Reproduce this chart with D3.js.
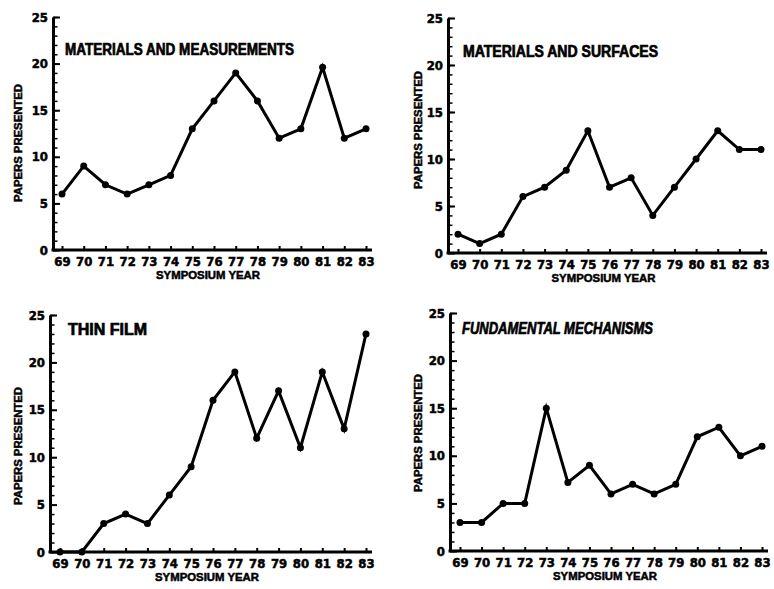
<!DOCTYPE html>
<html>
<head>
<meta charset="utf-8">
<script src="https://cdn.jsdelivr.net/npm/d3@7"></script>
<style>
  body { margin: 0; background: #fff; }
  svg { display: block; }
  .tick text { font-family: "Liberation Sans Narrow", "DejaVu Sans Condensed", sans-serif; font-weight: bold; font-size: 13px; fill: #000; stroke: #000; stroke-width: 0.5px; }
  .lbl { font-family: "Liberation Sans Narrow", "Liberation Sans", sans-serif; font-weight: bold; fill: #000; stroke: #000; stroke-width: 0.5px; }
</style>
</head>
<body>
<div id="chart"></div>
<script>
// symposium years (tick labels)
var years = ["69","70","71","72","73","74","75","76","77","78","79","80","81","82","83"];

// papers presented per year, one array per panel
var measurements = [6, 9, 7, 6, 7, 8, 13, 16, 19, 16, 12, 13, 19.6, 12, 13];
var surfaces     = [2, 1, 2, 6, 7, 8.8, 13, 7, 8, 4, 7, 10, 13, 11, 11];
var thinFilm     = [0, 0, 3, 4, 3, 6, 9, 16, 19, 12, 17, 11, 19, 13, 23];
var mechanisms   = [3, 3, 5, 5, 15, 7.2, 9, 6, 7, 6, 7, 12, 13, 10, 11];

var titles = ["MATERIALS AND MEASUREMENTS", "MATERIALS AND SURFACES", "THIN FILM", "FUNDAMENTAL MECHANISMS"];
var yTicks = [0, 5, 10, 15, 20, 25];

// panel layout (pixel positions in the page)
var panels = [
  {values: measurements, ax: 53,  x0: 62,  x1: 366, y0: 250, y1: 17,  tx: 65,  ty: 55,  tw: 229, italic: false, lx: 18,  ly: 143},
  {values: surfaces,     ax: 448, x0: 458, x1: 761, y0: 253, y1: 18,  tx: 463, ty: 57,  tw: 195, italic: false, lx: 418, ly: 130},
  {values: thinFilm,     ax: 50,  x0: 60,  x1: 366, y0: 552, y1: 315, tx: 68,  ty: 335, tw: 79,  italic: false, lx: 18,  ly: 446},
  {values: mechanisms,   ax: 450, x0: 460, x1: 762, y0: 551, y1: 313, tx: 462, ty: 334, tw: 191, italic: true,  lx: 418, ly: 433}
];

var width = 774, height = 589;

var svg = d3.select("#chart").append("svg")
    .attr("width", width)
    .attr("height", height);

panels.forEach(function(p, i) {
  var g = svg.append("g");

  var x = d3.scalePoint()
      .domain(years)
      .range([p.x0, p.x1]);
  var y = d3.scaleLinear()
      .domain([0, 25])
      .range([p.y0, p.y1]);

  // minor ticks on the y axis, every paper
  g.append("g")
      .attr("transform", "translate(" + p.ax + ",0)")
      .call(d3.axisLeft(y).tickValues(d3.range(0, 26)).tickSize(-4.5).tickFormat(""))
      .call(function(s) {
        s.select(".domain").remove();
        s.selectAll("line").attr("stroke-width", 1.5);
      });

  // major ticks and labels on the y axis
  g.append("g")
      .attr("transform", "translate(" + p.ax + ",0)")
      .call(d3.axisLeft(y).tickValues(yTicks).tickSize(-7).tickSizeOuter(0).tickPadding(5))
      .call(function(s) {
        s.select(".domain").attr("stroke-width", 3);
        s.selectAll("line").attr("stroke-width", 2);
      });

  // x axis
  g.append("g")
      .attr("transform", "translate(0," + p.y0 + ")")
      .call(d3.axisBottom(x).tickSize(-4).tickPadding(7))
      .call(function(s) {
        s.select(".domain").remove();
        s.selectAll("line").attr("stroke-width", 2);
      });

  g.append("line")
      .attr("x1", p.ax - 1.5)
      .attr("x2", p.x1 + 6)
      .attr("y1", p.y0)
      .attr("y2", p.y0)
      .attr("stroke", "#000")
      .attr("stroke-width", 3);

  // axis titles
  g.append("text")
      .attr("class", "lbl")
      .attr("x", (p.x0 + p.x1) / 2 - 6)
      .attr("y", p.y0 + 29)
      .attr("text-anchor", "middle")
      .attr("textLength", 104)
      .attr("lengthAdjust", "spacingAndGlyphs")
      .style("font-size", "11px")
      .text("SYMPOSIUM YEAR");

  g.append("text")
      .attr("class", "lbl")
      .attr("transform", "translate(" + (p.lx + 4) + "," + p.ly + ") rotate(-90)")
      .attr("text-anchor", "middle")
      .attr("textLength", 118)
      .attr("lengthAdjust", "spacingAndGlyphs")
      .style("font-size", "11px")
      .text("PAPERS PRESENTED");

  // panel title
  g.append("text")
      .attr("class", "lbl")
      .attr("x", p.tx)
      .attr("y", p.ty)
      .attr("textLength", p.tw)
      .attr("lengthAdjust", "spacingAndGlyphs")
      .style("font-style", p.italic ? "italic" : "normal")
      .style("font-size", "16px")
      .style("stroke-width", "0.7px")
      .text(titles[i]);

  // data line
  var line = d3.line()
      .x(function(d, j) { return x(years[j]); })
      .y(function(d) { return y(d); });

  g.append("path")
      .datum(p.values)
      .attr("fill", "none")
      .attr("stroke", "#000")
      .attr("stroke-width", 3)
      .attr("stroke-linejoin", "miter")
      .attr("d", line);

  g.selectAll("circle")
      .data(p.values)
      .enter().append("circle")
      .attr("cx", function(d, j) { return x(years[j]); })
      .attr("cy", function(d) { return y(d); })
      .attr("r", 3.5)
      .attr("fill", "#000");
});
</script>
</body>
</html>
